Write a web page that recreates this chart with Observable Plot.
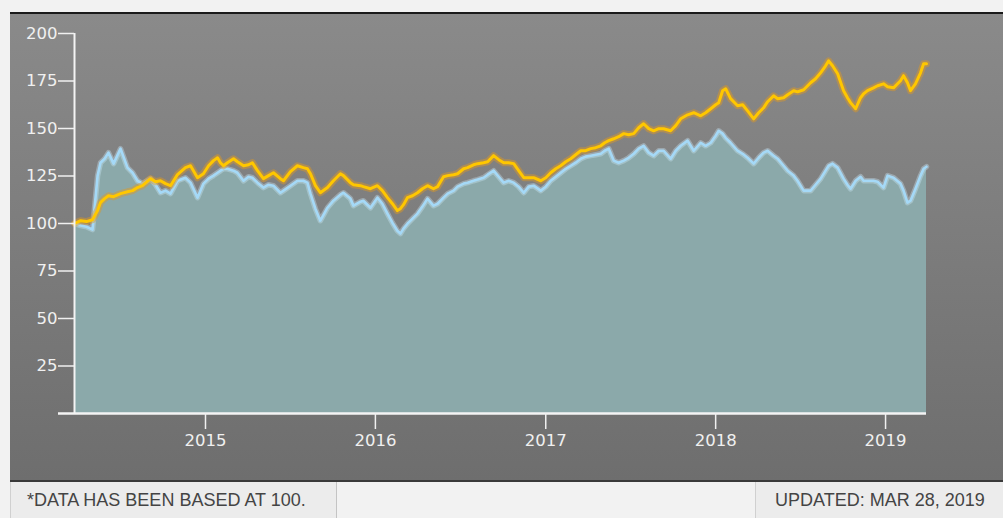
<!DOCTYPE html>
<html>
<head>
<meta charset="utf-8">
<script src="https://cdn.jsdelivr.net/npm/d3@7"></script>
<script src="https://cdn.jsdelivr.net/npm/@observablehq/plot@0.6"></script>
<style>
  html, body { margin: 0; padding: 0; background: #f2f2f2; width: 1003px; height: 518px; overflow: hidden; }
  #panel { position: absolute; left: 10px; top: 12px; width: 993px; height: 466px;
    border-top: 2px solid #1a1a1a; border-bottom: 2px solid #3a3a3a;
    background: linear-gradient(#8a8a8a, #6e6e6e); }
  #panel svg { display: block; }
  .foot { position: absolute; top: 482px; height: 36px; line-height: 36px; box-sizing: border-box;
    font-family: "Liberation Sans", Arial, sans-serif; font-size: 18px; color: #444; white-space: nowrap;
    background: #ececec; border-left: 1px solid #d0d0d0; border-right: 1px solid #c4c4c4; }
  #fl { left: 10px; width: 327px; padding-left: 16px; }
  #fr { left: 755px; width: 248px; padding-left: 19px; border-right: none; }
</style>
</head>
<body>
<div id="panel"></div>
<div class="foot" id="fl">*DATA HAS BEEN BASED AT 100.</div>
<div class="foot" id="fr">UPDATED: MAR 28, 2019</div>
<script>
// time in decimal years
const times = [2014.229,2014.265,2014.300,2014.335,2014.365,2014.382,2014.406,2014.429,2014.459,2014.500,
2014.541,2014.571,2014.600,2014.629,2014.676,2014.706,2014.735,2014.765,2014.794,2014.835,
2014.882,2014.912,2014.953,2014.988,2015.018,2015.047,2015.071,2015.088,2015.106,2015.129,
2015.165,2015.188,2015.224,2015.253,2015.276,2015.306,2015.341,2015.371,2015.400,2015.441,
2015.459,2015.500,2015.541,2015.576,2015.600,2015.618,2015.647,2015.676,2015.718,2015.753,
2015.794,2015.812,2015.853,2015.871,2015.912,2015.929,2015.971,2016.012,2016.041,2016.071,
2016.100,2016.129,2016.147,2016.165,2016.188,2016.218,2016.247,2016.276,2016.306,2016.341,
2016.365,2016.400,2016.424,2016.459,2016.482,2016.518,2016.541,2016.576,2016.600,2016.635,
2016.659,2016.694,2016.724,2016.753,2016.782,2016.812,2016.841,2016.871,2016.900,2016.929,
2016.971,2017.000,2017.029,2017.059,2017.088,2017.118,2017.147,2017.176,2017.206,2017.235,
2017.265,2017.294,2017.324,2017.347,2017.371,2017.400,2017.429,2017.459,2017.488,2017.518,
2017.547,2017.576,2017.606,2017.635,2017.665,2017.694,2017.735,2017.765,2017.794,2017.835,
2017.871,2017.912,2017.941,2017.971,2018.000,2018.018,2018.041,2018.059,2018.088,2018.129,
2018.159,2018.188,2018.224,2018.253,2018.282,2018.306,2018.341,2018.365,2018.400,2018.424,
2018.459,2018.482,2018.518,2018.559,2018.588,2018.618,2018.647,2018.665,2018.688,2018.718,
2018.753,2018.776,2018.794,2018.824,2018.853,2018.871,2018.894,2018.929,2018.953,2018.988,
2019.012,2019.047,2019.088,2019.106,2019.129,2019.147,2019.176,2019.206,2019.224,2019.241];

// light-blue series (filled)
const blueSeries = [100,98.9,98.3,96.8,125.2,132.0,134.1,137.3,131.5,139.4,
129.4,126.7,122.5,121.0,123.6,120.4,116.2,117.3,115.7,122.5,
124.1,121.5,113.6,121.0,123.6,125.2,126.7,127.8,128.8,128.8,
127.8,126.7,122.5,124.6,124.1,121.5,118.9,120.4,119.9,116.2,
117.3,119.9,122.5,122.5,121.5,115.7,107.8,101.5,108.3,112.0,
115.2,116.2,113.1,109.4,111.5,112.0,108.3,113.6,110.4,105.2,
100.4,96.2,94.7,97.3,99.9,102.6,105.2,108.9,113.1,109.4,
110.4,113.6,115.7,117.3,119.4,121.0,121.5,122.5,123.1,124.1,
125.7,127.8,124.6,121.5,122.5,121.5,119.4,116.2,119.4,119.9,
117.3,119.4,122.5,124.6,126.7,128.8,130.4,132.0,134.1,135.2,
135.7,136.2,136.7,138.3,139.4,133.1,132.0,133.1,134.6,136.7,
139.4,140.9,137.3,135.7,138.3,138.3,134.1,138.3,140.9,143.6,
138.3,142.5,140.9,142.5,146.2,148.8,147.3,145.1,142.5,138.3,
136.7,134.6,131.5,134.6,137.3,138.3,135.7,134.1,130.4,127.8,
125.2,122.5,117.3,117.3,120.4,123.6,127.8,130.4,131.5,129.4,
123.6,120.4,118.3,122.5,124.6,122.5,122.5,122.5,122.0,118.9,
125.2,124.1,121.0,117.3,111.0,112.0,118.3,125.2,128.8,129.9];

// gold series (line)
const goldSeries = [100,101.5,101.0,102.0,106.8,111.0,113.1,114.6,114.1,115.7,
116.7,117.3,118.9,119.9,123.6,122.0,122.5,121.0,119.9,125.7,
129.4,130.4,124.1,126.2,130.4,133.1,134.6,132.0,130.4,132.0,
134.1,132.5,130.4,130.9,132.0,127.8,123.6,125.2,126.7,123.6,
122.5,127.3,130.4,129.4,128.8,126.2,119.9,116.2,118.9,122.5,
126.2,125.2,121.5,120.4,119.9,119.4,118.3,119.9,117.3,113.6,
110.4,106.8,107.8,109.9,113.6,114.6,116.2,118.3,119.9,118.3,
119.4,124.6,125.2,125.7,126.2,128.8,129.4,130.9,131.5,132.0,
132.5,135.7,133.6,132.0,132.0,131.5,127.8,124.1,124.1,124.1,
122.5,124.1,126.7,128.8,130.4,132.5,134.1,136.2,138.3,138.3,
139.4,139.9,140.9,142.5,143.6,144.6,145.7,147.3,146.7,147.3,
150.4,152.5,149.9,148.8,149.9,149.9,148.8,151.5,155.1,157.2,
158.3,156.7,158.3,160.4,162.5,163.6,169.9,170.9,165.7,162.0,
162.5,159.3,155.1,158.3,160.9,164.1,167.2,165.7,166.2,167.8,
169.9,169.3,170.4,174.1,176.2,179.3,183.0,185.6,183.0,178.8,
169.9,166.2,163.6,160.4,166.2,168.3,169.9,171.4,172.5,173.5,
172.0,171.4,175.1,177.8,174.1,169.9,173.5,179.3,184.1,184.1];

const yTickValues = [25, 50, 75, 100, 125, 150, 175, 200];
const xTickYears = [2015, 2016, 2017, 2018, 2019];

const toDate = t => {
  const y = Math.floor(t);
  const s = Date.UTC(y, 0, 1), e = Date.UTC(y + 1, 0, 1);
  return new Date(s + (t - y) * (e - s));
};
const data = times.map((t, i) => ({date: toDate(t), blue: blueSeries[i], gold: goldSeries[i]}));
const xTicks = xTickYears.map(y => new Date(Date.UTC(y, 0, 1)));

const chart = Plot.plot({
  width: 993,
  height: 466,
  marginLeft: 64,
  marginRight: 77,
  marginTop: 19,
  marginBottom: 67,
  style: {background: "transparent", color: "#f0f0f0", fontFamily: "'DejaVu Sans', sans-serif", fontSize: "16.5px"},
  x: {type: "utc", domain: [data[0].date, data[data.length - 1].date]},
  y: {domain: [0, 200]},
  marks: [
    Plot.areaY(data, {x: "date", y: "blue", fill: "#8ba9aa"}),
    Plot.lineY(data, {x: "date", y: "blue", stroke: "#d2eeff", strokeWidth: 5.5, strokeOpacity: 0.35}),
    Plot.lineY(data, {x: "date", y: "blue", stroke: "#a5d9f7", strokeWidth: 2.6}),
    Plot.lineY(data, {x: "date", y: "gold", stroke: "#e39a1e", strokeWidth: 7, strokeOpacity: 0.45}),
    Plot.lineY(data, {x: "date", y: "gold", stroke: "#ffc700", strokeWidth: 3}),
    Plot.ruleX([data[0].date], {y1: 0, y2: 200, stroke: "#f4f4f4", strokeWidth: 2}),
    Plot.ruleY([0], {insetLeft: -16, stroke: "#f4f4f4", strokeWidth: 2.5}),
    Plot.axisY({ticks: yTickValues, tickSize: 16, tickPadding: 1, strokeWidth: 1.5, label: null}),
    Plot.axisX({ticks: xTicks, tickFormat: d3.utcFormat("%Y"), tickSize: 16, tickPadding: 5, strokeWidth: 1.5, label: null})
  ]
});
document.getElementById("panel").appendChild(chart);
</script>
</body>
</html>
